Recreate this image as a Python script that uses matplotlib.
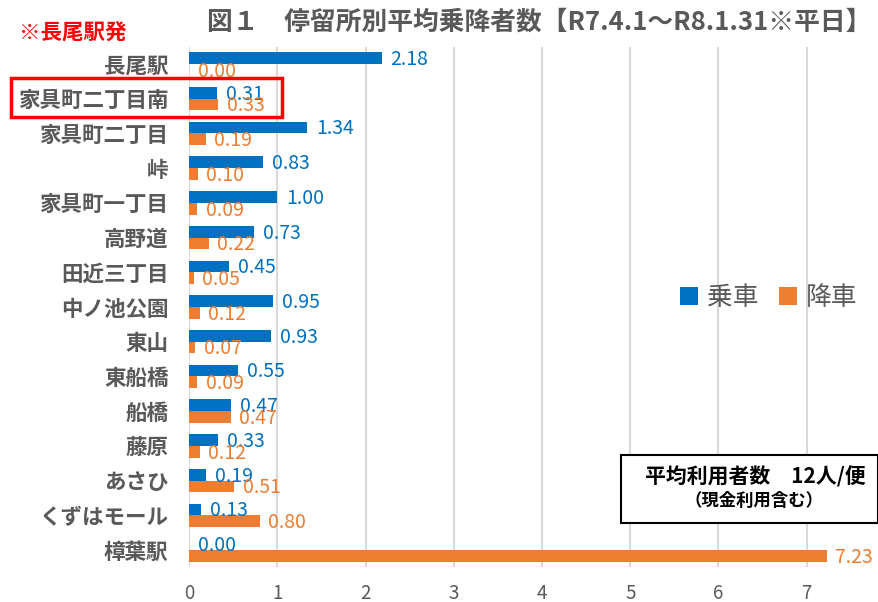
import matplotlib
matplotlib.use("Agg")
import matplotlib.pyplot as plt
import numpy as np
from matplotlib.patches import Rectangle

plt.rcParams['font.family'] = ['Noto Sans CJK JP', 'DejaVu Sans']

stops = ["長尾駅", "家具町二丁目南", "家具町二丁目", "峠", "家具町一丁目", "高野道",
         "田近三丁目", "中ノ池公園", "東山", "東船橋", "船橋", "藤原", "あさひ",
         "くずはモール", "樟葉駅"]
boarding = [2.18, 0.31, 1.34, 0.83, 1.00, 0.73, 0.45, 0.95, 0.93, 0.55, 0.47, 0.33, 0.19, 0.13, 0.00]
alighting = [0.00, 0.33, 0.19, 0.10, 0.09, 0.22, 0.05, 0.12, 0.07, 0.09, 0.47, 0.12, 0.51, 0.80, 7.23]
xticks = [0, 1, 2, 3, 4, 5, 6, 7]
series_names = ["乗車", "降車"]

BLUE = "#0070C0"
ORANGE = "#ED7D31"
GRAY = "#595959"

W, H = 879, 602
fig = plt.figure(figsize=(W / 100, H / 100), dpi=100)
ax = fig.add_axes([189.3 / W, 1 - 567.35 / H, (W - 189.3) / W, (567.35 - 46.65) / H])

y = np.arange(len(stops))
h = 0.337
ax.barh(y - h / 2, boarding, height=h, color=BLUE, label=series_names[0], zorder=3)
ax.barh(y + h / 2, alighting, height=h, color=ORANGE, label=series_names[1], zorder=3)

ax.set_xlim(0, 7.82)
ax.set_ylim(len(stops) - 0.5, -0.5)
ax.set_xticks(xticks)
ax.set_xticklabels([str(t) for t in xticks])
ax.set_yticks(y)
ax.set_yticklabels(stops, fontsize=15.5, fontweight='bold', color=GRAY)
ax.tick_params(axis='x', length=0, pad=11, labelsize=13.5, labelcolor=GRAY)
ax.tick_params(axis='y', length=0, pad=15)
for s in ax.spines.values():
    s.set_visible(False)
ax.grid(axis='x', color="#D9D9D9", linewidth=1.5, zorder=0)
ax.set_axisbelow(True)

for yi, v in zip(y, boarding):
    ax.annotate(f"{v:.2f}", (v, yi - h / 2), xytext=(6.5, -1), textcoords='offset points',
                ha='left', va='center', fontsize=14, color=BLUE, zorder=4)
for yi, v in zip(y, alighting):
    ax.annotate(f"{v:.2f}", (v, yi + h / 2), xytext=(6, -1), textcoords='offset points',
                ha='left', va='center', fontsize=14, color=ORANGE, zorder=4)

# legend
ax.legend(loc='center', bbox_to_anchor=((769 - 189.3) / (W - 189.3), (567.35 - 298) / (567.35 - 46.65)),
          ncol=2, frameon=False, fontsize=18.5, handlelength=0.7, handleheight=0.7,
          handletextpad=0.35, columnspacing=0.8, labelcolor=GRAY)

# title
fig.text(539 / W, 1 - 22 / H, "図１　停留所別平均乗降者数【R7.4.1～R8.1.31※平日】",
         ha='center', va='center', fontsize=18.5, fontweight='bold', color=GRAY)
# red note
fig.text(19 / W, 1 - 33 / H, "※長尾駅発", ha='left', va='center', fontsize=15.5,
         fontweight='bold', color="#FF0000")
# red rectangle
fig.patches.append(Rectangle((11 / W, 1 - 117 / H), (282 - 11) / W, (117 - 78) / H,
                             transform=fig.transFigure, fill=False, edgecolor="#FF0000",
                             linewidth=2.5, zorder=10))
# info box
fig.patches.append(Rectangle((621 / W, 1 - 523 / H), (W - 1 - 621) / W, (523 - 455) / H,
                             transform=fig.transFigure, fill=True, facecolor='white',
                             edgecolor="black", linewidth=1.5, zorder=10))
fig.text(755 / W, 1 - 476 / H, "平均利用者数　12人/便", ha='center', va='center',
         fontsize=15, fontweight='bold', color='black', zorder=11)
fig.text(754 / W, 1 - 501 / H, "（現金利用含む）", ha='center', va='center',
         fontsize=12.5, fontweight='bold', color='black', zorder=11)

fig.savefig("out.png", dpi=100)
